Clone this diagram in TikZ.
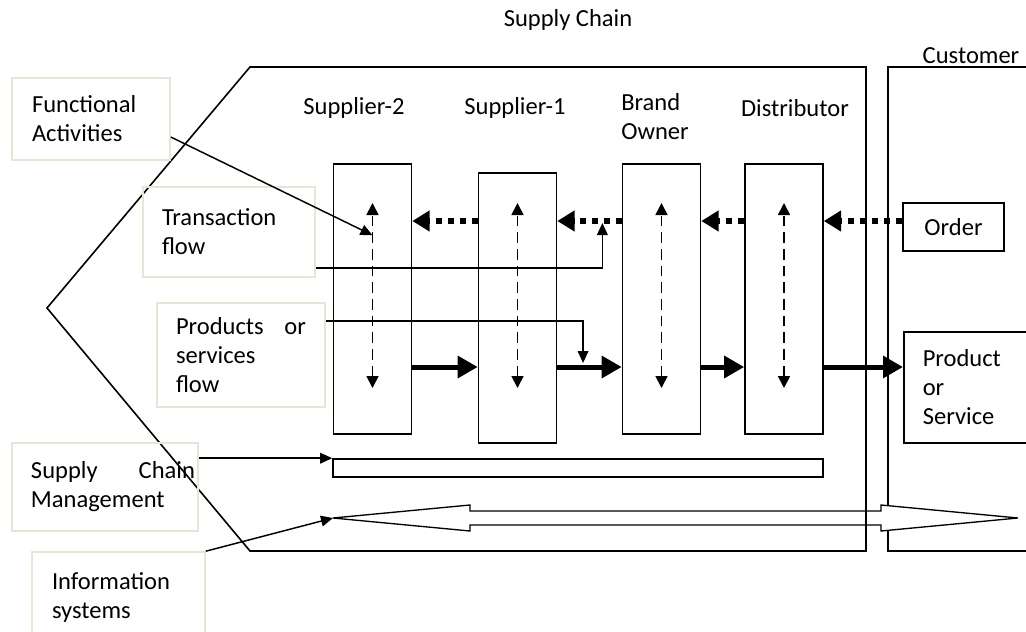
\documentclass[tikz,border=0pt]{standalone}
\usepackage{fontspec}
\setmainfont{Carlito}
\usetikzlibrary{arrows.meta,calc}

\begin{document}
\begin{tikzpicture}[x=0.75pt,y=0.75pt,yscale=-1,xscale=1,
  every node/.style={font=\fontsize{18.4}{21.75}\selectfont},
  colbox/.style={draw,line width=1.2pt,minimum width=58.5pt,minimum height=202.5pt,inner sep=0pt},
  lblbox/.style={draw={rgb,255:red,232;green,228;blue,214},line width=1.2pt,align=left,inner ysep=0pt},
  wbox/.style={draw,line width=1.2pt,align=left},
  vflow/.style={line width=1.3pt,dash pattern=on 8pt off 4.5pt,{Triangle[length=9pt,width=9pt]}-{Triangle[length=9pt,width=9pt]}},
  ordflow/.style={line width=4.5pt,dash pattern=on 4.5pt off 4.5pt,-{Triangle[length=13pt,width=15pt]}},
  prodflow/.style={line width=3.75pt,-{Triangle[length=15pt,width=16pt]}},
  pointer/.style={line width=1.1pt,-{Triangle[length=9pt,width=8pt]}}
]
\useasboundingbox (0,0) rectangle (1026,632);

%Shape: Customer frame
\draw [line width=1.2pt] (1040,67) -- (888,67) -- (888,551) -- (1040,551) ;
%Shape: Information systems double arrow
\coordinate (infotip) at (333,518);
\draw [line width=1pt,fill=white] (infotip) -- (470,505) -- (470,511) -- (881,511) -- (881,505) -- (1018,518) -- (881,531) -- (881,525) -- (470,525) -- (470,531) -- cycle ;
%Shape: Supply chain pentagon
\draw [line width=1.2pt] (250,67) -- (866,67) -- (866,551) -- (250,551) -- (47,308) -- cycle ;

% Text Node
\node (title) at (568,20) {Supply Chain};
\node (cust) at (971,56) {Customer};
\node (lsup2) at (354,108) {Supplier-2};
\node (lsup1) at (515,108) {Supplier-1};
\node [align=left] (lbrand) at (655,117) {Brand\\Owner};
\node (ldist) at (795,108) {Distributor};

%Shape: Columns
\node [colbox] (sup2) at (372.5,299) {};
\node [colbox] (sup1) at (517.5,308) {};
\node [colbox] (brand) at (661.5,299) {};
\node [colbox] (dist) at (784,299) {};

%Shape: Customer boxes
\node [wbox,minimum width=75.75pt,minimum height=36pt] (order) at (953.5,227) {Order};
\node [wbox,anchor=west,text width=74.25pt,inner xsep=14.25pt,minimum height=83.25pt] (prod) at (903,387.5) {Product\\or\\Service};
\node [draw,line width=1.2pt,minimum width=367.5pt,minimum height=13.5pt,inner sep=0pt] (scm) at (578,468) {};

%Shape: Label boxes
\node [lblbox,text width=88.5pt,inner xsep=15pt,minimum height=61.5pt] (func) at (91,119) {Functional\\Activities};
\node [lblbox,text width=100.5pt,inner xsep=14.25pt,minimum height=67.5pt] (trans) at (229,232) {Transaction\\flow};
\node [lblbox,text width=97.5pt,inner xsep=14.25pt,minimum height=78pt] (prods) at (241,355) {Products\hfill or\\services\\flow};
\node [lblbox,text width=111pt,inner xsep=14.25pt,minimum height=66pt] (scmlbl) at (105,487) {\makebox[123pt][l]{Supply\hfill Chain}\\Management};
\node [lblbox,text width=99.75pt,inner xsep=15pt,minimum height=67.5pt] (info) at (118.5,597) {Information\\systems};

%Straight Lines: rows
\coordinate (ordrow) at (0,221);
\coordinate (prodrow) at (0,367);
\coordinate (uprow) at (0,203);
\coordinate (dnrow) at (0,388);

\foreach \c in {sup2,sup1,brand,dist}
  \draw [vflow] (\c |- dnrow) -- (\c |- uprow);

\draw [ordflow] (order.west |- ordrow) -- (dist.east |- ordrow);
\draw [ordflow] (dist.west |- ordrow) -- (brand.east |- ordrow);
\draw [ordflow] (brand.west |- ordrow) -- (sup1.east |- ordrow);
\draw [ordflow] (sup1.west |- ordrow) -- (sup2.east |- ordrow);

\draw [prodflow] (sup2.east |- prodrow) -- (sup1.west |- prodrow);
\draw [prodflow] (sup1.east |- prodrow) -- (brand.west |- prodrow);
\draw [prodflow] (brand.east |- prodrow) -- (dist.west |- prodrow);
\draw [prodflow] (dist.east |- prodrow) -- (prod.west |- prodrow);

%Straight Lines: pointers
\draw [pointer] ($(func.east)+(0,18)$) -- ($(sup2.north)+(0,72)$);
\draw [pointer,shorten >=1.5pt] ($(trans.east)+(0,36)$) -| ($(sup1.east |- ordrow)!0.7!(brand.west |- ordrow)$);
\draw [pointer,shorten >=3pt] ($(prods.east)+(0,-34)$) -| ($(sup1.east |- prodrow)!0.4!(brand.west |- prodrow)$);
\draw [pointer] (scmlbl.east |- scm.north west) -- (scm.north west);
\draw [pointer] (info.north east) -- (infotip);

\end{tikzpicture}
\end{document}
